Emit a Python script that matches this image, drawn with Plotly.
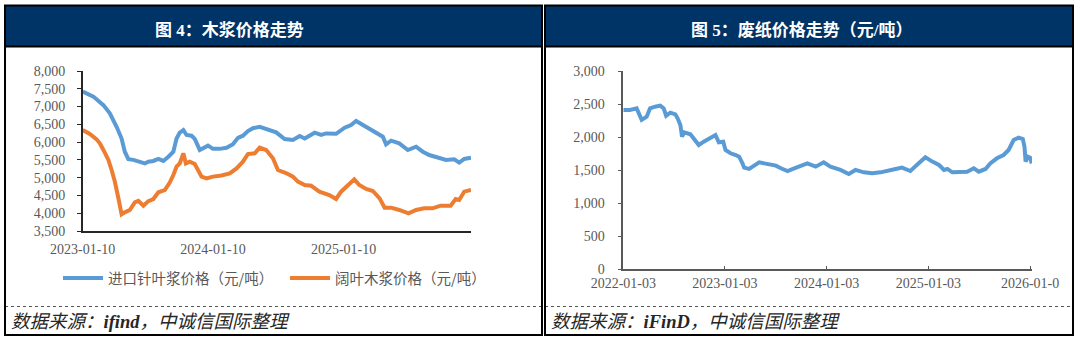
import plotly.graph_objects as go

W, H = 1080, 343

# ---------------- data: left chart (wood pulp) ----------------
softwood_dates = [
    "2023-01-10", "2023-02-09", "2023-03-09", "2023-03-27", "2023-04-15", "2023-04-29",
    "2023-05-08", "2023-05-18", "2023-06-01", "2023-06-19", "2023-07-03", "2023-07-13",
    "2023-07-27", "2023-08-10", "2023-08-24", "2023-09-07", "2023-09-21", "2023-09-30",
    "2023-10-09", "2023-10-19", "2023-10-28", "2023-11-11", "2023-11-20", "2023-12-04",
    "2023-12-14", "2023-12-27", "2024-01-10", "2024-01-29", "2024-02-17", "2024-03-06",
    "2024-03-20", "2024-04-03", "2024-04-17", "2024-05-01", "2024-05-20", "2024-06-17",
    "2024-07-05", "2024-07-29", "2024-08-21", "2024-09-09", "2024-09-23", "2024-10-21",
    "2024-11-08", "2024-11-22", "2024-12-20", "2025-01-13", "2025-01-31", "2025-02-14",
    "2025-02-28", "2025-03-19", "2025-04-07", "2025-04-30", "2025-05-09", "2025-05-23",
    "2025-06-15", "2025-07-09", "2025-08-01", "2025-08-20", "2025-09-07", "2025-10-01",
    "2025-10-24", "2025-11-16", "2025-11-30", "2025-12-14", "2026-01-02",
]
softwood_price = [
    7420, 7280, 7040, 6810, 6430, 6100,
    5730, 5520, 5500, 5430, 5400, 5450,
    5470, 5530, 5470, 5590, 5730, 6100,
    6270, 6340, 6200, 6180, 6090, 5780,
    5840, 5900, 5810, 5810, 5840, 5940,
    6120, 6180, 6310, 6390, 6430, 6340,
    6275, 6088, 6060, 6170, 6100, 6265,
    6200, 6245, 6235, 6406, 6481, 6594,
    6510, 6406, 6275, 6153, 5938, 6040,
    5965, 5778, 5870, 5730, 5637, 5570,
    5497, 5515, 5422, 5525, 5560,
]

hardwood_dates = [
    "2023-01-10", "2023-01-30", "2023-02-18", "2023-02-27", "2023-03-09", "2023-03-23",
    "2023-04-01", "2023-04-10", "2023-04-20", "2023-04-29", "2023-05-08", "2023-05-22",
    "2023-06-05", "2023-06-15", "2023-06-29", "2023-07-13", "2023-07-27", "2023-08-10",
    "2023-08-28", "2023-09-11", "2023-09-21", "2023-09-30", "2023-10-09", "2023-10-19",
    "2023-10-26", "2023-11-06", "2023-11-20", "2023-11-30", "2023-12-09", "2023-12-23",
    "2024-01-10", "2024-02-03", "2024-02-26", "2024-03-16", "2024-04-03", "2024-04-17",
    "2024-05-06", "2024-05-20", "2024-06-07", "2024-06-26", "2024-07-10", "2024-08-03",
    "2024-08-21", "2024-09-04", "2024-09-23", "2024-10-11", "2024-11-03", "2024-12-01",
    "2024-12-20", "2025-01-03", "2025-01-22", "2025-02-09", "2025-02-23", "2025-03-14",
    "2025-04-02", "2025-04-21", "2025-05-05", "2025-05-23", "2025-06-15", "2025-07-11",
    "2025-08-01", "2025-08-24", "2025-09-16", "2025-10-09", "2025-11-06", "2025-11-20",
    "2025-11-30", "2025-12-14", "2026-01-02",
]
hardwood_price = [
    6340, 6228, 6078, 5965, 5780, 5500,
    5215, 4890, 4420, 3970, 4025, 4090,
    4306, 4350, 4210, 4340, 4400, 4590,
    4650, 4860, 5075, 5310, 5400, 5685,
    5400, 5450, 5385, 5215, 5030, 4980,
    5030, 5060, 5120, 5260, 5450, 5665,
    5685, 5843, 5778, 5544, 5216, 5122,
    5028, 4888, 4794, 4775, 4606, 4513,
    4400, 4606, 4766, 4953, 4794, 4681,
    4625, 4419, 4156, 4156, 4091, 3997,
    4091, 4138, 4138, 4213, 4213, 4400,
    4372, 4606, 4653,
]

left_ticks = ["2023-01-10", "2024-01-10", "2025-01-10"]

# ---------------- data: right chart (waste paper) ----------------
waste_dates = [
    "2022-01-03", "2022-01-27", "2022-02-20", "2022-03-10", "2022-03-28", "2022-04-09",
    "2022-04-27", "2022-05-16", "2022-05-28", "2022-06-06", "2022-06-21", "2022-07-09",
    "2022-07-17", "2022-07-27", "2022-08-02", "2022-08-10", "2022-09-01", "2022-09-15",
    "2022-10-01", "2022-10-19", "2022-11-12", "2022-11-30", "2022-12-12", "2022-12-28",
    "2023-01-05", "2023-01-23", "2023-02-11", "2023-02-23", "2023-03-07", "2023-03-13",
    "2023-03-31", "2023-04-18", "2023-05-06", "2023-05-24", "2023-06-17", "2023-07-05",
    "2023-07-23", "2023-08-16", "2023-09-09", "2023-10-03", "2023-10-26", "2023-11-25",
    "2023-12-24", "2024-01-17", "2024-02-22", "2024-03-23", "2024-04-16", "2024-05-16",
    "2024-06-15", "2024-07-15", "2024-08-14", "2024-09-07", "2024-09-30", "2024-10-30",
    "2024-11-29", "2024-12-23", "2025-01-17", "2025-02-10", "2025-02-28", "2025-03-12",
    "2025-03-30", "2025-04-22", "2025-05-22", "2025-06-15", "2025-07-03", "2025-07-27",
    "2025-08-13", "2025-09-06", "2025-09-30", "2025-10-18", "2025-11-05", "2025-11-23",
    "2025-12-08", "2025-12-14", "2025-12-18", "2025-12-26", "2026-01-03", "2026-01-09",
]
waste_price = [
    2410, 2410, 2435, 2260, 2309, 2435,
    2460, 2476, 2435, 2324, 2370, 2344,
    2284, 2183, 2007, 2072, 2042, 1956,
    1881, 1931, 1982, 2032, 1921, 1931,
    1805, 1755, 1729, 1704, 1603, 1538,
    1518, 1563, 1618, 1603, 1578, 1568,
    1528, 1487, 1528, 1568, 1603, 1553,
    1618, 1553, 1503, 1442, 1503, 1467,
    1452, 1467, 1503, 1518, 1538, 1487,
    1603, 1694, 1629, 1578, 1503, 1518,
    1467, 1477, 1477, 1528, 1477, 1518,
    1603, 1679, 1729, 1805, 1956, 1992,
    1971, 1855, 1629, 1704, 1689, 1603,
]

right_ticks = ["2022-01-03", "2023-01-03", "2024-01-03", "2025-01-03", "2026-01-03"]
right_tick_text = ["2022-01-03", "2023-01-03", "2024-01-03", "2025-01-03", "2026-01-0"]

BLUE = "#5B9BD5"
ORANGE = "#ED7D31"
NAVY = "#003366"
GRAY = "#595959"
FONT = "Liberation Serif, Noto Sans CJK SC, serif"
CJK = "Noto Sans CJK SC, Liberation Serif, sans-serif"


def px(x):
    return x / W


def py(y):
    return 1 - y / H


fig = go.Figure()
fig.add_trace(go.Scatter(x=softwood_dates, y=softwood_price, mode="lines",
                         name="进口针叶浆价格（元/吨）",
                         line=dict(color=BLUE, width=4), xaxis="x", yaxis="y"))
fig.add_trace(go.Scatter(x=hardwood_dates, y=hardwood_price, mode="lines",
                         name="阔叶木浆价格（元/吨）",
                         line=dict(color=ORANGE, width=4), xaxis="x", yaxis="y"))
fig.add_trace(go.Scatter(x=waste_dates, y=waste_price, mode="lines",
                         name="废纸价格", showlegend=False,
                         line=dict(color=BLUE, width=4), xaxis="x2", yaxis="y2"))

tickfont = dict(family=FONT, size=14, color=GRAY)

fig.update_layout(
    width=W, height=H,
    margin=dict(l=0, r=0, t=0, b=0, pad=0, autoexpand=False),
    paper_bgcolor="white", plot_bgcolor="white",
    xaxis=dict(domain=[px(82.7), px(471)], type="date",
               range=["2023-01-10", "2026-01-02"],
               tickvals=left_ticks, ticktext=left_ticks,
               showgrid=False, zeroline=False, automargin=False,
               showline=True, linecolor="#262626", linewidth=1.5,
               ticks="outside", ticklen=4, tickcolor="white",
               tickfont=tickfont, anchor="y"),
    yaxis=dict(domain=[py(231), py(71)], range=[3500, 8000],
               tickvals=list(range(3500, 8001, 500)), tickformat=",",
               showgrid=False, zeroline=False, automargin=False,
               showline=True, linecolor="#262626", linewidth=1.5,
               ticks="outside", ticklen=4, tickcolor="#262626",
               ticklabelstandoff=9,
               tickfont=tickfont, anchor="x"),
    xaxis2=dict(domain=[px(623.3), px(1032)], type="date",
                range=["2022-01-03", "2026-01-10"],
                tickvals=right_ticks, ticktext=right_tick_text,
                showgrid=False, zeroline=False, automargin=False,
                showline=True, linecolor="#595959", linewidth=1.5,
                ticks="inside", ticklen=4, tickcolor="#595959",
                tickfont=tickfont, anchor="y2"),
    yaxis2=dict(domain=[py(269.3), py(71)], range=[0, 3000],
                tickvals=list(range(0, 3001, 500)), tickformat=",",
                showgrid=False, zeroline=False, automargin=False,
                showline=True, linecolor="#595959", linewidth=1.5,
                ticks="outside", ticklen=4, tickcolor="#595959",
                ticklabelstandoff=10,
                tickfont=tickfont, anchor="x2"),
    legend=dict(orientation="h", x=px(58), y=py(262), xanchor="left", yanchor="top",
                font=dict(family=CJK, size=14.5, color=GRAY),
                bgcolor="rgba(0,0,0,0)", itemwidth=40, tracegroupgap=0,
                entrywidth=172, entrywidthmode="pixels"),
    showlegend=True,
)

shapes = []
# headers
for x0, x1 in [(5, 542), (545, 1073)]:
    shapes.append(dict(type="rect", xref="paper", yref="paper",
                       x0=px(x0), x1=px(x1), y0=py(46), y1=py(6),
                       fillcolor=NAVY, line=dict(width=0), layer="below"))
    shapes.append(dict(type="line", xref="paper", yref="paper",
                       x0=px(x0), x1=px(x1), y0=py(46.5), y1=py(46.5),
                       line=dict(color="black", width=2)))
    # dotted separator
    shapes.append(dict(type="line", xref="paper", yref="paper",
                       x0=px(x0), x1=px(x1), y0=py(306.5), y1=py(306.5),
                       line=dict(color="#555555", width=1, dash="dot")))
    # panel frame
    shapes.append(dict(type="rect", xref="paper", yref="paper",
                       x0=px(x0), x1=px(x1), y0=py(335), y1=py(5.5),
                       line=dict(color="black", width=2)))
fig.update_layout(shapes=shapes)

annotations = [
    dict(text="<b>图 4：木浆价格走势</b>", x=px(229), y=py(30), xref="paper", yref="paper",
         showarrow=False, xanchor="center", yanchor="middle",
         font=dict(family=FONT, size=17, color="white")),
    dict(text="<b>图 5：废纸价格走势（元/吨）</b>", x=px(801), y=py(30), xref="paper", yref="paper",
         showarrow=False, xanchor="center", yanchor="middle",
         font=dict(family=FONT, size=17, color="white")),
    dict(text="<i>数据来源：<b>ifind</b>，中诚信国际整理</i>", x=px(9), y=py(322), xref="paper", yref="paper",
         showarrow=False, xanchor="left", yanchor="middle",
         font=dict(family=FONT, size=18.5, color="#262626")),
    dict(text="<i>数据来源：<b>iFinD</b>，中诚信国际整理</i>", x=px(549), y=py(322), xref="paper", yref="paper",
         showarrow=False, xanchor="left", yanchor="middle",
         font=dict(family=FONT, size=18.5, color="#262626")),
]
fig.update_layout(annotations=annotations)

fig.write_html("out.html")
